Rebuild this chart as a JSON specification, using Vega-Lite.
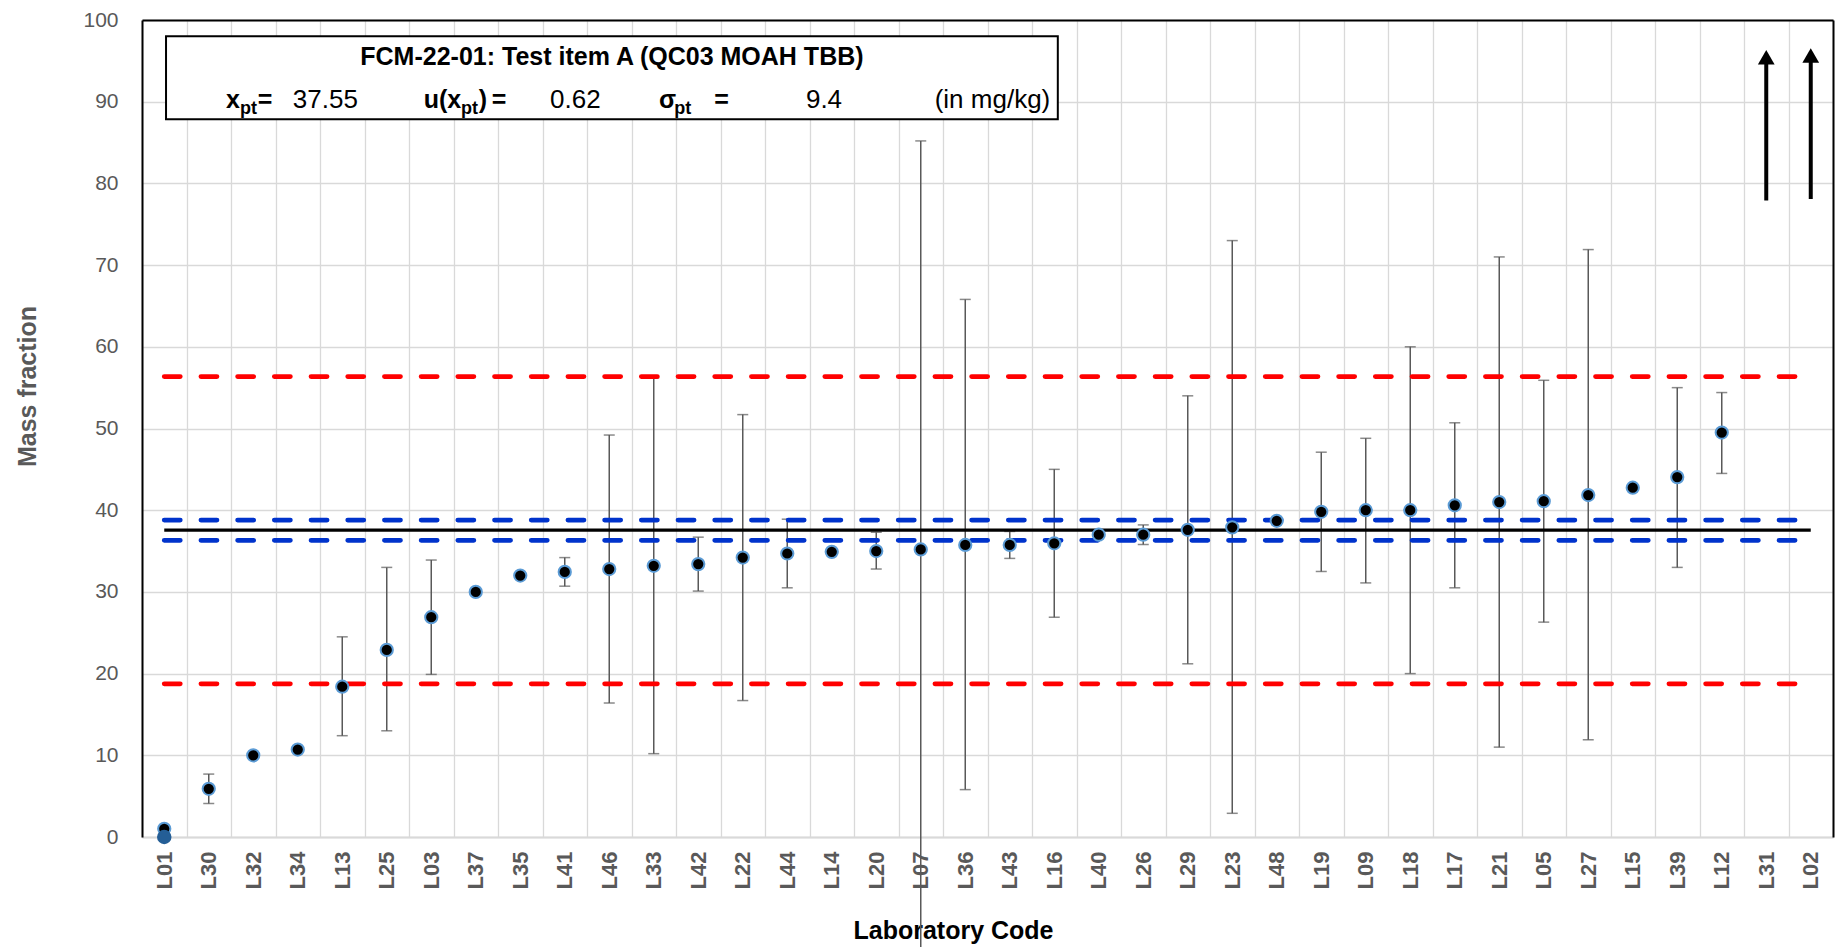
{
  "$schema": "https://vega.github.io/schema/vega-lite/v6.json",
  "width": 1691,
  "height": 817,
  "autosize": {"type": "none"},
  "padding": {"left": 142, "top": 20, "right": 3, "bottom": 110},
  "background": "white",
  "config": {"view": {"stroke": null}, "font": "Liberation Sans"},
  "datasets": {
    "labs": [
      {"lab": "L01", "value": 1.0, "lo": null, "hi": null},
      {"lab": "L30", "value": 5.9, "lo": 4.1, "hi": 7.7},
      {"lab": "L32", "value": 10.0, "lo": null, "hi": null},
      {"lab": "L34", "value": 10.7, "lo": null, "hi": null},
      {"lab": "L13", "value": 18.4, "lo": 12.4, "hi": 24.5},
      {"lab": "L25", "value": 22.9, "lo": 13.0, "hi": 33.0},
      {"lab": "L03", "value": 26.9, "lo": 19.9, "hi": 33.9},
      {"lab": "L37", "value": 30.0, "lo": null, "hi": null},
      {"lab": "L35", "value": 32.0, "lo": null, "hi": null},
      {"lab": "L41", "value": 32.45, "lo": 30.7, "hi": 34.2},
      {"lab": "L46", "value": 32.8, "lo": 16.4, "hi": 49.2},
      {"lab": "L33", "value": 33.2, "lo": 10.2, "hi": 56.2},
      {"lab": "L42", "value": 33.4, "lo": 30.1, "hi": 36.7},
      {"lab": "L22", "value": 34.2, "lo": 16.7, "hi": 51.7},
      {"lab": "L44", "value": 34.7, "lo": 30.5, "hi": 38.9},
      {"lab": "L14", "value": 34.9, "lo": null, "hi": null},
      {"lab": "L20", "value": 35.0, "lo": 32.8, "hi": 37.3},
      {"lab": "L07", "value": 35.2, "lo": -14.7, "hi": 85.2},
      {"lab": "L36", "value": 35.75, "lo": 5.8, "hi": 65.8},
      {"lab": "L43", "value": 35.75, "lo": 34.1, "hi": 37.4},
      {"lab": "L16", "value": 35.95, "lo": 26.9, "hi": 45.0},
      {"lab": "L40", "value": 37.0, "lo": null, "hi": null},
      {"lab": "L26", "value": 37.0, "lo": 35.8, "hi": 38.2},
      {"lab": "L29", "value": 37.6, "lo": 21.2, "hi": 54.0},
      {"lab": "L23", "value": 37.9, "lo": 2.9, "hi": 73.0},
      {"lab": "L48", "value": 38.7, "lo": null, "hi": null},
      {"lab": "L19", "value": 39.8, "lo": 32.5, "hi": 47.1},
      {"lab": "L09", "value": 40.0, "lo": 31.1, "hi": 48.8},
      {"lab": "L18", "value": 40.0, "lo": 20.0, "hi": 60.0},
      {"lab": "L17", "value": 40.6, "lo": 30.5, "hi": 50.7},
      {"lab": "L21", "value": 41.0, "lo": 11.0, "hi": 71.0},
      {"lab": "L05", "value": 41.1, "lo": 26.3, "hi": 55.9},
      {"lab": "L27", "value": 41.85, "lo": 11.9, "hi": 71.9},
      {"lab": "L15", "value": 42.75, "lo": null, "hi": null},
      {"lab": "L39", "value": 44.05, "lo": 33.0, "hi": 55.0},
      {"lab": "L12", "value": 49.5, "lo": 44.5, "hi": 54.4}
    ],
    "zero": [{"lab": "L01", "value": 0}],
    "arrows": [
      {"lab": "L31", "from": 77.9, "to": 94.9, "tip": 95.45},
      {"lab": "L02", "from": 78.1, "to": 95.1, "tip": 95.65}
    ],
    "refs": [
      {"kind": "xpt", "y": 37.55},
      {"kind": "u", "y": 38.79},
      {"kind": "u", "y": 36.31},
      {"kind": "sigma", "y": 56.35},
      {"kind": "sigma", "y": 18.75}
    ],
    "box": [{"x1": 0.54, "x2": 20.58, "y1": 87.85, "y2": 98.0}],
    "boxtext": [
      {"t": "FCM-22-01:  Test item A (QC03 MOAH TBB)", "x": 10.56, "y": 94.5, "role": "head"},
      {"t": "x", "x": 1.89, "y": 89.2, "role": "sym"},
      {"t": "pt", "x": 2.2, "y": 88.45, "role": "sub"},
      {"t": "=", "x": 2.6, "y": 89.2, "role": "sym"},
      {"t": "37.55", "x": 3.39, "y": 89.2, "role": "num"},
      {"t": "u(x", "x": 6.33, "y": 89.2, "role": "sym"},
      {"t": "pt", "x": 7.17, "y": 88.45, "role": "sub"},
      {"t": ")", "x": 7.57, "y": 89.2, "role": "sym"},
      {"t": "=", "x": 7.86, "y": 89.2, "role": "sym"},
      {"t": "0.62", "x": 9.17, "y": 89.2, "role": "num"},
      {"t": "σ", "x": 11.62, "y": 89.2, "role": "sym"},
      {"t": "pt", "x": 11.96, "y": 88.45, "role": "sub"},
      {"t": "=", "x": 12.86, "y": 89.2, "role": "sym"},
      {"t": "9.4", "x": 14.92, "y": 89.2, "role": "num"},
      {"t": "(in mg/kg)", "x": 20.41, "y": 89.2, "role": "unit"}
    ]
  },
  "resolve": {"scale": {"x": "independent"}, "axis": {"x": "independent", "y": "independent"}},
  "layer": [
    {
      "data": {"name": "labs"},
      "transform": [{"filter": "isValid(datum.lo)"}],
      "layer": [
        {
          "mark": {"type": "rule", "color": "#595959", "strokeWidth": 1.5},
          "encoding": {
            "x": {
              "field": "lab", "type": "nominal",
              "scale": {"type": "band", "domain": ["L01","L30","L32","L34","L13","L25","L03","L37","L35","L41","L46","L33","L42","L22","L44","L14","L20","L07","L36","L43","L16","L40","L26","L29","L23","L48","L19","L09","L18","L17","L21","L05","L27","L15","L39","L12","L31","L02"], "paddingInner": 0, "paddingOuter": 0},
              "axis": {
                "title": "Laboratory Code", "labelAngle": -90, "tickBand": "extent", "ticks": false,
                "grid": true, "gridColor": "#D9D9D9", "gridWidth": 1.3,
                "domainColor": "#D9D9D9", "domainWidth": 2,
                "labelFont": "Liberation Sans", "labelFontSize": 22, "labelFontWeight": "bold", "labelColor": "#595959",
                "labelPadding": 14, "labelOverlap": false,
                "titleFont": "Liberation Sans", "titleFontSize": 25, "titleFontWeight": "bold", "titleColor": "#000000",
                "titlePadding": 30, "titleX": 811
              }
            },
            "y": {
              "field": "lo", "type": "quantitative",
              "scale": {"domain": [0, 100], "nice": false, "zero": false},
              "axis": {
                "title": "Mass fraction", "values": [0, 10, 20, 30, 40, 50, 60, 70, 80, 90, 100], "ticks": false,
                "grid": true, "gridColor": "#D9D9D9", "gridWidth": 1.3,
                "domainColor": "#000000", "domainWidth": 2,
                "labelFont": "Liberation Sans", "labelFontSize": 21, "labelColor": "#595959", "labelPadding": 24,
                "titleFont": "Liberation Sans", "titleFontSize": 25, "titleFontWeight": "bold", "titleColor": "#595959",
                "titlePadding": 42, "titleY": 366
              }
            },
            "y2": {"field": "hi"}
          }
        },
        {
          "mark": {"type": "tick", "color": "#595959", "thickness": 1.5, "size": 11},
          "encoding": {
            "x": {"field": "lab", "type": "nominal"},
            "y": {"field": "lo", "type": "quantitative"}
          }
        },
        {
          "mark": {"type": "tick", "color": "#595959", "thickness": 1.5, "size": 11},
          "encoding": {
            "x": {"field": "lab", "type": "nominal"},
            "y": {"field": "hi", "type": "quantitative"}
          }
        }
      ]
    },
    {
      "layer": [
        {
          "data": {"name": "refs"},
          "transform": [{"filter": "datum.kind === 'xpt'"}],
          "mark": {"type": "rule", "color": "#000000", "strokeWidth": 3.2},
          "encoding": {
            "x": {"datum": 0.5, "type": "quantitative", "scale": {"domain": [0, 38], "nice": false, "zero": false},
                  "axis": {"orient": "top", "labels": false, "ticks": false, "grid": false, "domainColor": "#000000", "domainWidth": 2, "title": null}},
            "x2": {"datum": 37.5},
            "y": {"field": "y", "type": "quantitative", "scale": {"domain": [0, 100], "nice": false, "zero": false},
                  "axis": {"orient": "right", "labels": false, "ticks": false, "grid": false, "domainColor": "#000000", "domainWidth": 2, "title": null}}
          }
        },
        {
          "data": {"name": "refs"},
          "transform": [{"filter": "datum.kind === 'u'"}],
          "mark": {"type": "rule", "color": "#0033CC", "strokeWidth": 4.8, "strokeDash": [16, 20.7], "strokeCap": "round"},
          "encoding": {
            "x": {"datum": 0.5, "type": "quantitative"},
            "x2": {"datum": 37.5},
            "y": {"field": "y", "type": "quantitative"}
          }
        },
        {
          "data": {"name": "refs"},
          "transform": [{"filter": "datum.kind === 'sigma'"}],
          "mark": {"type": "rule", "color": "#FF0000", "strokeWidth": 4.8, "strokeDash": [16, 20.7], "strokeCap": "round"},
          "encoding": {
            "x": {"datum": 0.5, "type": "quantitative"},
            "x2": {"datum": 37.5},
            "y": {"field": "y", "type": "quantitative"}
          }
        },
        {
          "data": {"name": "box"},
          "mark": {"type": "rect", "fill": "#FFFFFF", "stroke": "#000000", "strokeWidth": 2},
          "encoding": {
            "x": {"field": "x1", "type": "quantitative"},
            "x2": {"field": "x2"},
            "y": {"field": "y1", "type": "quantitative"},
            "y2": {"field": "y2"}
          }
        },
        {
          "data": {"name": "boxtext"},
          "transform": [{"filter": "datum.role === 'head'"}],
          "mark": {"type": "text", "font": "Liberation Sans", "fontSize": 25, "fontWeight": "bold", "align": "center", "baseline": "alphabetic", "color": "#000000"},
          "encoding": {
            "x": {"field": "x", "type": "quantitative"},
            "y": {"field": "y", "type": "quantitative"},
            "text": {"field": "t"}
          }
        },
        {
          "data": {"name": "boxtext"},
          "transform": [{"filter": "datum.role === 'sym'"}],
          "mark": {"type": "text", "font": "Liberation Sans", "fontSize": 25, "fontWeight": "bold", "align": "left", "baseline": "alphabetic", "color": "#000000"},
          "encoding": {
            "x": {"field": "x", "type": "quantitative"},
            "y": {"field": "y", "type": "quantitative"},
            "text": {"field": "t"}
          }
        },
        {
          "data": {"name": "boxtext"},
          "transform": [{"filter": "datum.role === 'sub'"}],
          "mark": {"type": "text", "font": "Liberation Sans", "fontSize": 18, "fontWeight": "bold", "align": "left", "baseline": "alphabetic", "color": "#000000"},
          "encoding": {
            "x": {"field": "x", "type": "quantitative"},
            "y": {"field": "y", "type": "quantitative"},
            "text": {"field": "t"}
          }
        },
        {
          "data": {"name": "boxtext"},
          "transform": [{"filter": "datum.role === 'num'"}],
          "mark": {"type": "text", "font": "Liberation Sans", "fontSize": 26, "align": "left", "baseline": "alphabetic", "color": "#000000"},
          "encoding": {
            "x": {"field": "x", "type": "quantitative"},
            "y": {"field": "y", "type": "quantitative"},
            "text": {"field": "t"}
          }
        },
        {
          "data": {"name": "boxtext"},
          "transform": [{"filter": "datum.role === 'unit'"}],
          "mark": {"type": "text", "font": "Liberation Sans", "fontSize": 26, "align": "right", "baseline": "alphabetic", "color": "#000000"},
          "encoding": {
            "x": {"field": "x", "type": "quantitative"},
            "y": {"field": "y", "type": "quantitative"},
            "text": {"field": "t"}
          }
        }
      ]
    },
    {
      "layer": [
        {
          "data": {"name": "labs"},
          "mark": {"type": "point", "shape": "circle", "filled": true, "fill": "#000000", "stroke": "#5B9BD5", "strokeWidth": 2, "size": 150, "opacity": 1},
          "encoding": {
            "x": {"field": "lab", "type": "nominal",
                  "scale": {"type": "band", "domain": ["L01","L30","L32","L34","L13","L25","L03","L37","L35","L41","L46","L33","L42","L22","L44","L14","L20","L07","L36","L43","L16","L40","L26","L29","L23","L48","L19","L09","L18","L17","L21","L05","L27","L15","L39","L12","L31","L02"], "paddingInner": 0, "paddingOuter": 0},
                  "axis": null},
            "y": {"field": "value", "type": "quantitative", "scale": {"domain": [0, 100], "nice": false, "zero": false}, "axis": null}
          }
        },
        {
          "data": {"name": "zero"},
          "mark": {"type": "point", "shape": "circle", "filled": true, "fill": "#245E96", "strokeWidth": 0, "size": 210, "opacity": 1},
          "encoding": {
            "x": {"field": "lab", "type": "nominal", "axis": null},
            "y": {"field": "value", "type": "quantitative", "axis": null}
          }
        },
        {
          "data": {"name": "arrows"},
          "mark": {"type": "rule", "color": "#000000", "strokeWidth": 4},
          "encoding": {
            "x": {"field": "lab", "type": "nominal", "axis": null},
            "y": {"field": "from", "type": "quantitative", "axis": null},
            "y2": {"field": "to"}
          }
        },
        {
          "data": {"name": "arrows"},
          "mark": {"type": "point", "shape": "triangle-up", "filled": true, "fill": "#000000", "strokeWidth": 0, "size": 280, "opacity": 1},
          "encoding": {
            "x": {"field": "lab", "type": "nominal", "axis": null},
            "y": {"field": "tip", "type": "quantitative", "axis": null}
          }
        }
      ]
    }
  ]
}
